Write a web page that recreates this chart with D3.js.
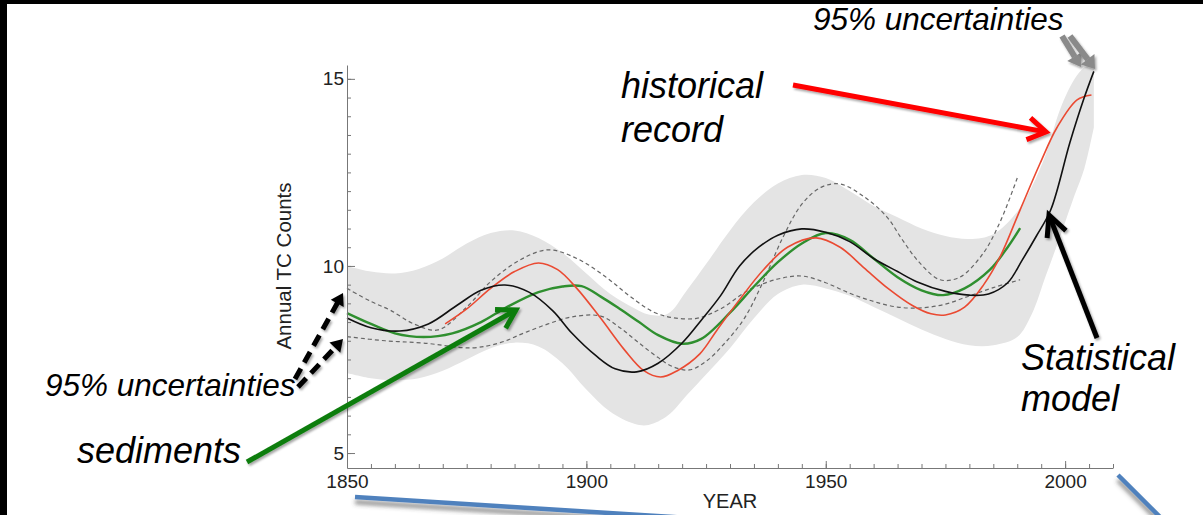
<!DOCTYPE html>
<html>
<head>
<meta charset="utf-8">
<script src="https://cdn.jsdelivr.net/npm/d3@7"></script>
<style>
  html, body { margin: 0; padding: 0; background: #fff; }
  svg { display: block; font-family: "Liberation Sans", Arial, sans-serif; }
</style>
</head>
<body>
<svg id="chart" width="1203" height="515"></svg>
<script>
// statistical model (black line)
const modelYears = [1850, 1855, 1861, 1867, 1873, 1878, 1883, 1888, 1893, 1897, 1902, 1906, 1910.5, 1915, 1920, 1924, 1928, 1932, 1936, 1940, 1945, 1950, 1955, 1960, 1965, 1969, 1975, 1980, 1984, 1988, 1991, 1994, 1997, 2001, 2004, 2006];
const modelValues = [8.61, 8.35, 8.26, 8.45, 8.95, 9.35, 9.49, 9.3, 8.8, 8.2, 7.6, 7.25, 7.17, 7.4, 7.94, 8.55, 9.2, 10.0, 10.5, 10.82, 10.99, 10.9, 10.65, 10.2, 9.85, 9.58, 9.32, 9.22, 9.25, 9.55, 10.15, 10.8, 11.5, 13.3, 14.5, 15.2];

// historical record (red line)
const recordYears = [1870.5, 1875, 1880, 1885, 1890, 1894, 1898, 1903, 1908, 1912, 1915.5, 1919, 1923.7, 1927.3, 1932, 1937, 1942, 1948, 1953, 1958, 1963, 1968, 1972, 1975, 1979, 1983, 1986.4, 1990.6, 1994.8, 1998.3, 2002.5, 2005.5];
const recordValues = [8.45, 8.85, 9.4, 9.85, 10.08, 9.9, 9.4, 8.6, 7.75, 7.2, 7.03, 7.2, 7.65, 8.29, 9.1, 9.9, 10.5, 10.75, 10.5, 9.95, 9.4, 8.95, 8.72, 8.69, 8.9, 9.5, 10.24, 11.5, 12.75, 13.7, 14.44, 14.57];

// sediments (green line)
const sedimentYears = [1850, 1855, 1860, 1866, 1872, 1878, 1883.4, 1890, 1895, 1899, 1903, 1907, 1911, 1915, 1920, 1924, 1930, 1935, 1940, 1945, 1950, 1955, 1960, 1965, 1970, 1974.5, 1979, 1984.3, 1988, 1990.6];
const sedimentValues = [8.74, 8.45, 8.2, 8.1, 8.2, 8.5, 8.9, 9.3, 9.45, 9.46, 9.18, 8.85, 8.5, 8.15, 7.92, 8.05, 8.75, 9.45, 10.1, 10.6, 10.88, 10.7, 10.2, 9.7, 9.35, 9.22, 9.4, 9.9, 10.5, 11.01];

// sediment 95% bounds (dashed)
const dashAYears = [1850, 1855, 1859, 1864, 1869, 1875, 1880, 1886, 1892, 1898, 1904, 1909, 1914, 1918, 1923, 1928, 1934, 1940, 1945, 1950, 1955, 1960, 1965, 1970, 1975, 1980, 1985, 1990.6];
const dashAValues = [9.4, 9.05, 8.82, 8.45, 8.29, 8.9, 9.58, 10.15, 10.43, 10.2, 9.71, 9.2, 8.77, 8.62, 8.6, 8.85, 9.36, 9.65, 9.73, 9.55, 9.27, 9.05, 8.9, 8.88, 8.98, 9.2, 9.42, 9.63];
const dashBYears = [1850, 1858, 1866, 1876, 1882, 1887, 1892, 1897, 1903, 1907, 1911, 1915, 1918, 1921.5, 1925, 1929, 1933, 1937, 1941, 1945, 1949, 1953, 1958, 1962.7, 1966, 1969.5, 1973.9, 1978, 1982.9, 1986.5, 1990];
const dashBValues = [8.11, 8.0, 7.94, 7.81, 7.95, 8.21, 8.45, 8.64, 8.66, 8.35, 7.94, 7.55, 7.31, 7.22, 7.45, 7.95, 8.6, 9.6, 10.75, 11.65, 12.1, 12.19, 11.85, 11.32, 10.7, 10.1, 9.63, 9.7, 10.34, 11.2, 12.35];

// model 95% band (grey)
const bandYears = [1850, 1855, 1860, 1865, 1870, 1875, 1880, 1885, 1890, 1895, 1900, 1905, 1910, 1913, 1917, 1921, 1925, 1930, 1935, 1940, 1945, 1950, 1955, 1960, 1965, 1970, 1975, 1980, 1985, 1990, 1993, 1996, 1999, 2002, 2004, 2006];
const bandUpper = [10.0, 9.85, 9.8, 9.92, 10.2, 10.6, 10.88, 10.95, 10.75, 10.35, 9.8, 9.25, 8.87, 8.7, 8.72, 9.35, 10.05, 10.95, 11.7, 12.2, 12.43, 12.35, 12.0, 11.6, 11.3, 11.0, 10.8, 10.72, 10.85, 11.45, 12.1, 13.0, 14.2, 15.0, 15.3, 15.45];
const bandLower = [7.14, 7.0, 6.95, 7.0, 7.2, 7.5, 7.8, 7.95, 7.85, 7.4, 6.7, 6.1, 5.78, 5.75, 6.0, 6.55, 7.1, 7.8, 8.6, 9.25, 9.5, 9.4, 9.2, 8.9, 8.6, 8.3, 8.05, 7.88, 7.88, 8.1, 8.7, 9.75, 10.8, 11.9, 12.6, 13.7];

// axis ticks
const xMajorTicks = [1850, 1900, 1950, 2000];
const yMajorTicks = [5, 10, 15];

const svg = d3.select("#chart");
const x = d3.scaleLinear().domain([1850, 2010]).range([347, 1113]);
const y = d3.scaleLinear().domain([4.6, 15.37]).range([468, 65]);

const defs = svg.append("defs");
defs.append("filter").attr("id", "shadow").attr("x", "-20%").attr("y", "-20%").attr("width", "140%").attr("height", "140%")
  .append("feDropShadow").attr("dx", 1.5).attr("dy", 2).attr("stdDeviation", 1.2)
  .attr("flood-color", "#000").attr("flood-opacity", 0.35);
defs.append("filter").attr("id", "shadowBig").attr("x", "-20%").attr("y", "-100%").attr("width", "140%").attr("height", "400%")
  .append("feDropShadow").attr("dx", 0).attr("dy", 5).attr("stdDeviation", 2)
  .attr("flood-color", "#444").attr("flood-opacity", 0.6);

// frame of the slide
svg.append("rect").attr("x", 0).attr("y", 0).attr("width", 1203).attr("height", 4).attr("fill", "#000");
svg.append("rect").attr("x", 0).attr("y", 0).attr("width", 7).attr("height", 515).attr("fill", "#000");

const curve = d3.curveCatmullRom.alpha(0.5);
const line = d3.line().x(d => x(d[0])).y(d => y(d[1])).curve(curve);
const zipped = (xs, ys) => xs.map((v, i) => [v, ys[i]]);

// grey band: upper edge forward, lower edge back
const up = zipped(bandYears, bandUpper);
const lo = zipped(bandYears, bandLower).reverse();
svg.append("path")
  .attr("d", line(up) + "L" + line(lo).slice(1) + "Z")
  .attr("fill", "#e4e4e4");

// dashed bounds
[[dashAYears, dashAValues], [dashBYears, dashBValues]].forEach(s => {
  svg.append("path").attr("d", line(zipped(s[0], s[1])))
    .attr("fill", "none").attr("stroke", "#666").attr("stroke-width", 1.2)
    .attr("stroke-dasharray", "4,3");
});

svg.append("path").attr("d", line(zipped(sedimentYears, sedimentValues)))
  .attr("fill", "none").attr("stroke", "#2f8f2f").attr("stroke-width", 2.4);
svg.append("path").attr("d", line(zipped(recordYears, recordValues)))
  .attr("fill", "none").attr("stroke", "#ea4a32").attr("stroke-width", 1.6);
svg.append("path").attr("d", line(zipped(modelYears, modelValues)))
  .attr("fill", "none").attr("stroke", "#111").attr("stroke-width", 1.6);

// axes
const axisColor = "#777";
function styleAxis(g) {
  g.selectAll("path, line").attr("stroke", axisColor);
  g.selectAll("text").attr("fill", "#222").attr("font-size", 19)
    .attr("font-family", "Liberation Sans, Arial, sans-serif");
}
const xMinor = svg.append("g").attr("transform", `translate(0,${y(4.6)})`)
  .call(d3.axisBottom(x).tickValues(d3.range(1850, 2011, 5)).tickSize(-4).tickSizeOuter(0).tickFormat(""));
styleAxis(xMinor);
const xMajor = svg.append("g").attr("transform", `translate(0,${y(4.6)})`)
  .call(d3.axisBottom(x).tickValues(xMajorTicks).tickSize(-7).tickSizeOuter(0).tickPadding(7).tickFormat(d3.format("d")));
xMajor.select(".domain").remove();
styleAxis(xMajor);

const yMinor = svg.append("g").attr("transform", `translate(${x(1850)},0)`)
  .call(d3.axisLeft(y).tickValues(d3.range(5, 15.01, 0.5)).tickSize(-4).tickSizeOuter(0).tickFormat(""));
styleAxis(yMinor);
const yMajor = svg.append("g").attr("transform", `translate(${x(1850)},0)`)
  .call(d3.axisLeft(y).tickValues(yMajorTicks).tickSize(-8).tickSizeOuter(0).tickPadding(3));
yMajor.select(".domain").remove();
styleAxis(yMajor);

svg.append("text").attr("transform", "translate(291,266) rotate(-90)")
  .attr("text-anchor", "middle").attr("font-size", 20.5).attr("fill", "#222")
  .text("Annual TC Counts");
svg.append("text").attr("x", 730).attr("y", 508)
  .attr("text-anchor", "middle").attr("font-size", 20).attr("fill", "#222")
  .text("YEAR");

// blue callout lines below the axis
const blue = [[355, 497, 705, 519], [1118, 475, 1162, 519]];
blue.forEach(b => {
  svg.append("line").attr("x1", b[0]).attr("y1", b[1]).attr("x2", b[2]).attr("y2", b[3])
    .attr("stroke", "#4f81bd").attr("stroke-width", 4.5).attr("filter", "url(#shadowBig)");
});

// arrows
function arrow(a) {
  const g = svg.append("g").attr("filter", "url(#shadow)");
  const ang = Math.atan2(a.y2 - a.y1, a.x2 - a.x1);
  const back = ang + Math.PI;
  const sp = a.spread * Math.PI / 180;
  const w1 = [a.x2 + a.len * Math.cos(back - sp), a.y2 + a.len * Math.sin(back - sp)];
  const w2 = [a.x2 + a.len * Math.cos(back + sp), a.y2 + a.len * Math.sin(back + sp)];
  const trim = a.filled ? a.len * 0.8 : 2;
  g.append("line").attr("x1", a.x1).attr("y1", a.y1)
    .attr("x2", a.x2 - trim * Math.cos(ang)).attr("y2", a.y2 - trim * Math.sin(ang))
    .attr("stroke", a.color).attr("stroke-width", a.width)
    .attr("stroke-dasharray", a.dash || null);
  if (a.filled) {
    g.append("path").attr("d", `M${w1}L${a.x2},${a.y2}L${w2}Z`).attr("fill", a.color);
  } else {
    g.append("path").attr("d", `M${w1}L${a.x2},${a.y2}L${w2}`)
      .attr("fill", "none").attr("stroke", a.color).attr("stroke-width", a.width)
      .attr("stroke-linejoin", "miter");
  }
}
const arrows = [
  {x1: 793, y1: 85, x2: 1046, y2: 132, color: "#ff0000", width: 5, len: 21, spread: 32},
  {x1: 247, y1: 462, x2: 516, y2: 310, color: "#0f7d0f", width: 5, len: 21, spread: 31},
  {x1: 1097, y1: 338, x2: 1049, y2: 215, color: "#000", width: 5, len: 23, spread: 26},
  {x1: 295, y1: 379, x2: 343, y2: 293, color: "#000", width: 5, len: 14, spread: 32, filled: true, dash: "12,7"},
  {x1: 298, y1: 387, x2: 343, y2: 339, color: "#000", width: 5, len: 14, spread: 32, filled: true, dash: "12,7"},
  {x1: 1062, y1: 36, x2: 1081, y2: 67, color: "#8a8a8a", width: 6, len: 15, spread: 35, filled: true},
  {x1: 1070, y1: 36, x2: 1095, y2: 69, color: "#8a8a8a", width: 6, len: 15, spread: 35, filled: true}
];
arrows.forEach(arrow);

// annotation labels
const notes = [
  {text: "95% uncertainties", x: 813, y: 30, size: 31.5},
  {text: "historical", x: 621, y: 98, size: 36},
  {text: "record", x: 621, y: 142, size: 36},
  {text: "Statistical", x: 1021, y: 370, size: 36},
  {text: "model", x: 1021, y: 411, size: 36},
  {text: "95% uncertainties", x: 45, y: 396, size: 31.5},
  {text: "sediments", x: 77, y: 463, size: 36}
];
svg.selectAll("text.note").data(notes).enter().append("text")
  .attr("class", "note")
  .attr("x", d => d.x).attr("y", d => d.y)
  .attr("font-size", d => d.size).attr("font-style", "italic").attr("fill", "#000")
  .text(d => d.text);
</script>
</body>
</html>
